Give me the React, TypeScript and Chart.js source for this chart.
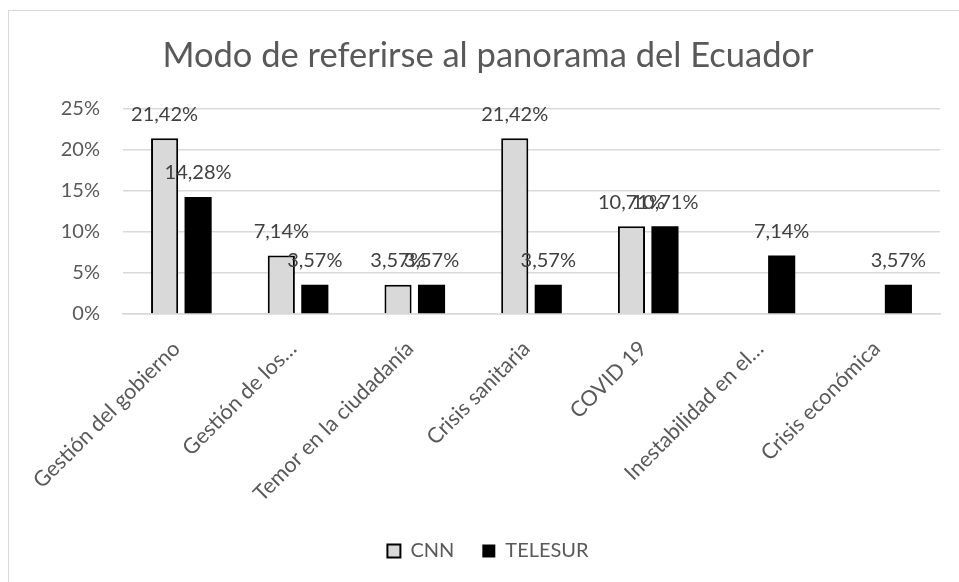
import React, { useEffect, useRef } from "react";
import { Chart, registerables } from "chart.js";

Chart.register(...registerables);

const categories = [
  "Gestión del gobierno",
  "Gestión de los…",
  "Temor en la ciudadanía",
  "Crisis sanitaria",
  "COVID 19",
  "Inestabilidad en el…",
  "Crisis económica",
];
const cnnValues = [21.42, 7.14, 3.57, 21.42, 10.71, null, null];
const telesurValues = [14.28, 3.57, 3.57, 3.57, 10.71, 7.14, 3.57];
const yTicks = [0, 5, 10, 15, 20, 25];

const FONT = "Lato, 'Open Sans', sans-serif";
const TEXT = "#595959";

const dataLabels = {
  id: "dataLabels",
  afterDatasetsDraw(chart: any) {
    const ctx = chart.ctx;
    ctx.save();
    ctx.font = `20px ${FONT}`;
    ctx.fillStyle = "#404040";
    ctx.textAlign = "center";
    ctx.textBaseline = "middle";
    chart.data.datasets.forEach((ds: any, di: number) => {
      const meta = chart.getDatasetMeta(di);
      meta.data.forEach((bar: any, i: number) => {
        const v = ds.data[i];
        if (v === null || v === undefined) return;
        const txt = v.toFixed(2).replace(".", ",") + "%";
        ctx.fillText(txt, bar.x, bar.y - 24);
      });
    });
    ctx.restore();
  },
};

export default function App() {
  const ref = useRef<HTMLCanvasElement>(null);
  useEffect(() => {
    if (!ref.current) return;
    const chart = new Chart(ref.current, {
      type: "bar",
      data: {
        labels: categories,
        datasets: [
          {
            label: "CNN",
            data: cnnValues,
            backgroundColor: "#d9d9d9",
            borderColor: "#000000",
            borderWidth: 2,
            categoryPercentage: 0.574,
            barPercentage: 0.81,
          },
          {
            label: "TELESUR",
            data: telesurValues,
            backgroundColor: "#000000",
            borderColor: "#000000",
            borderWidth: 0,
            categoryPercentage: 0.574,
            barPercentage: 0.81,
          },
        ],
      },
      options: {
        animation: false,
        responsive: false,
        maintainAspectRatio: false,
        layout: { padding: { left: 0, right: 0, top: 0, bottom: 11 } },
        plugins: {
          title: {
            display: true,
            text: "Modo de referirse al panorama del Ecuador",
            color: TEXT,
            font: { family: FONT, size: 34.5, weight: "normal" },
            padding: { top: 24, bottom: 32.6 },
          },
          legend: {
            position: "bottom",
            labels: {
              color: TEXT,
              font: { family: FONT, size: 20 },
              boxWidth: 13,
              boxHeight: 13,
              padding: 28,
            },
          },
          tooltip: { enabled: false },
        },
        scales: {
          x: {
            grid: { display: false },
            border: { display: true, color: "#d9d9d9", width: 1.5 },
            ticks: {
              color: TEXT,
              font: { family: FONT, size: 21.5 },
              minRotation: 45,
              maxRotation: 45,
              autoSkip: false,
              padding: 14,
              labelOffset: -5,
            },
            afterFit(scale: any) {
              scale.height = 199;
            },
          },
          y: {
            min: 0,
            max: 25,
            afterBuildTicks(scale: any) {
              scale.ticks = yTicks.map((v) => ({ value: v }));
            },
            grid: { color: "#d9d9d9", lineWidth: 1.5, drawTicks: false },
            border: { display: false },
            ticks: {
              color: TEXT,
              font: { family: FONT, size: 20 },
              padding: 23,
              callback: (v: any) => v + "%",
            },
            afterFit(scale: any) {
              scale.width = 114;
            },
          },
          yRight: {
            position: "right",
            display: true,
            grid: { display: false, drawTicks: false },
            border: { display: false },
            ticks: { display: false },
            afterFit(scale: any) {
              scale.width = 27;
            },
          },
        },
      },
      plugins: [dataLabels],
    });
    return () => chart.destroy();
  }, []);
  return (
    <div
      style={{
        position: "absolute",
        left: 8,
        top: 10,
        width: 951,
        height: 572,
        overflow: "hidden",
        borderLeft: "1px solid #d9d9d9",
        borderTop: "1px solid #d9d9d9",
        background: "#fff",
      }}
    >
      <canvas ref={ref} width={958} height={571} style={{ display: "block" }} />
    </div>
  );
}
